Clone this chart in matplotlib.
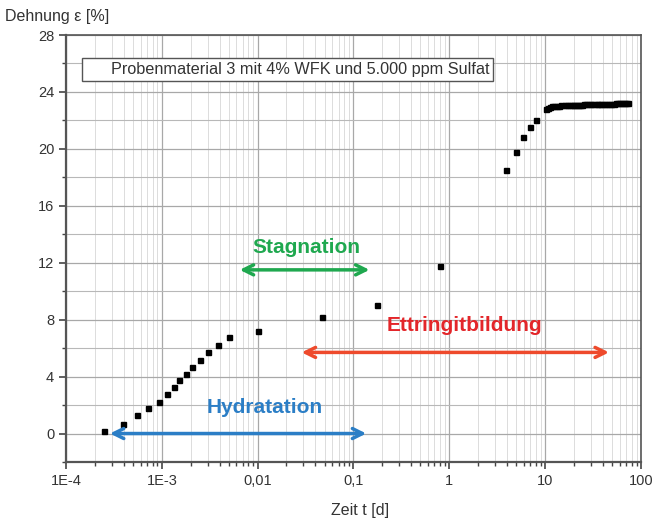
import matplotlib
matplotlib.use("Agg")
import matplotlib.pyplot as plt
from matplotlib.lines import Line2D
from matplotlib.ticker import LogLocator, FixedLocator, MultipleLocator, NullFormatter

plt.rcParams['font.family'] = ['Liberation Sans', 'DejaVu Sans']

# Data (time in days, strain in %)
t_days = [2.49e-4, 3.93e-4, 5.5e-4, 7.15e-4, 9.3e-4, 1.13e-3, 1.33e-3, 1.50e-3,
          1.78e-3, 2.05e-3, 2.49e-3, 3.0e-3, 3.83e-3, 4.99e-3, 0.0100,
          0.0475, 0.174, 0.805, 3.93, 4.99, 5.9, 6.98, 8.05,
          10.3, 10.8, 11.3, 11.9, 12.5, 13.2, 14.0, 14.8,
          16.0, 17.0, 18.0, 19.0, 20.0, 21.0, 22.0, 23.0, 24.0, 25.5, 27.0, 28.5,
          30.5, 32.5, 34.5, 36.5, 38.5, 41.0, 43.5, 46.0, 49.0, 52.0, 55.0,
          58.0, 61.0, 64.0, 67.0, 70.0, 73.0]
strain = [0.21, 0.70, 1.27, 1.76, 2.25, 2.75, 3.24, 3.73,
          4.2, 4.7, 5.2, 5.7, 6.2, 6.8, 7.2,
          8.17, 9.0, 11.76, 18.5, 19.8, 20.85, 21.55, 22.0,
          22.8, 22.9, 22.95, 23.0, 23.0, 23.02, 23.03, 23.05,
          23.05, 23.06, 23.07, 23.08, 23.08, 23.09, 23.1, 23.1, 23.11, 23.12, 23.12, 23.13,
          23.14, 23.14, 23.15, 23.15, 23.16, 23.16, 23.17, 23.17, 23.18, 23.18, 23.19,
          23.19, 23.2, 23.2, 23.21, 23.21, 23.22]

x_ticks = [1e-4, 1e-3, 1e-2, 1e-1, 1, 10, 100]
x_labels = ["1E-4", "1E-3", "0,01", "0,1", "1", "10", "100"]
y_ticks = [0, 4, 8, 12, 16, 20, 24, 28]

legend_label = "Probenmaterial 3 mit 4% WFK und 5.000 ppm Sulfat"

phases = ["Stagnation", "Ettringitbildung", "Hydratation"]
phase_colors = ["#1fa84f", "#e3262a", "#2b7ec6"]
arrow_colors = ["#1fa84f", "#ee4a2c", "#2b7ec6"]
arrow_start = [0.0065, 0.0288, 2.87e-4]
arrow_end = [0.147, 46.4, 0.136]
arrow_y = [11.5, 5.7, 0.0]
label_x = [0.032, 1.43, 0.0118]
label_y = [13.1, 7.6, 1.8]

fig = plt.figure(figsize=(6.57, 5.25), dpi=100)
ax = fig.add_axes([0.1005, 0.12, 0.875, 0.8133])

ax.set_xscale('log')
ax.set_xlim(1e-4, 100)
ax.set_ylim(-2, 28)

ax.xaxis.set_major_locator(FixedLocator(x_ticks))
ax.set_xticklabels(x_labels)
ax.xaxis.set_minor_locator(LogLocator(base=10, subs=range(2, 10), numticks=20))
ax.xaxis.set_minor_formatter(NullFormatter())
ax.yaxis.set_major_locator(FixedLocator(y_ticks))
ax.yaxis.set_minor_locator(MultipleLocator(2))

ax.grid(which='major', color='#a8a8a8', lw=0.9)
ax.grid(which='minor', axis='x', color='#dcdcdc', lw=0.7)
ax.grid(which='minor', axis='y', color='#b8b8b8', lw=0.8)
ax.set_axisbelow(True)

for s in ax.spines.values():
    s.set_color('#555555')
    s.set_linewidth(1.2)
ax.spines['left'].set_linewidth(1.6)
ax.spines['bottom'].set_linewidth(1.6)

ax.tick_params(which='major', direction='out', length=5, width=1.2, color='#444444',
               labelsize=10.5, labelcolor='#333333')
ax.tick_params(which='minor', direction='out', length=3, width=1.0, color='#444444')

ax.plot(t_days, strain, ls='none', marker='s', ms=3.6, color='black', zorder=5)

for name, c, ac, x0, x1, ya, lx, ly in zip(phases, phase_colors, arrow_colors,
                                           arrow_start, arrow_end, arrow_y, label_x, label_y):
    ax.annotate('', xy=(x1, ya), xytext=(x0, ya),
                arrowprops=dict(arrowstyle='<->', color=ac, lw=2.5, mutation_scale=18,
                                shrinkA=0, shrinkB=0), zorder=6)
    ax.text(lx, ly, name, color=c, fontsize=15, fontweight='bold',
            ha='center', va='center', zorder=6)

handle = Line2D([], [], ls='none')
leg = ax.legend([handle], [legend_label], loc='upper left', bbox_to_anchor=(0.028, 0.946),
                borderaxespad=0, fancybox=False, framealpha=1, edgecolor='#555555',
                fontsize=11.7, handlelength=1.1, handletextpad=0.4, borderpad=0.25)
leg.get_frame().set_linewidth(1.0)
for txt in leg.get_texts():
    txt.set_color('#333333')

fig.text(0.008, 0.968, "Dehnung ε [%]", fontsize=11.5, color='#333333', ha='left', va='center')
fig.text(0.548, 0.028, "Zeit t [d]", fontsize=11.5, color='#333333', ha='center', va='center')

fig.savefig('out.png', dpi=100)
